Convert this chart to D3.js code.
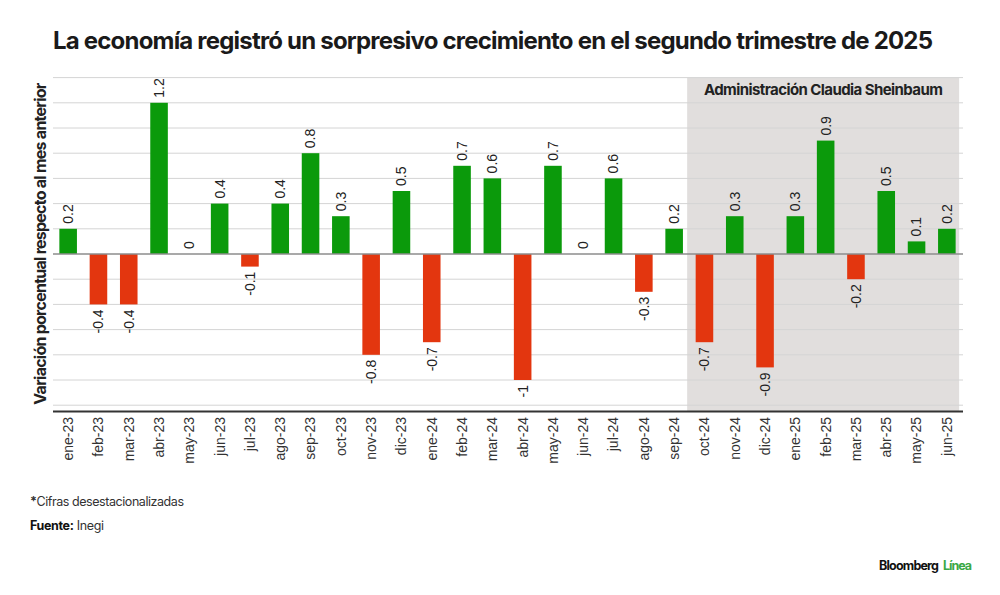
<!DOCTYPE html>
<html lang="es">
<head>
<meta charset="UTF-8">
<title>Crecimiento económico mensual</title>
<script src="https://d3js.org/d3.v7.min.js"></script>
<style>
    body { margin: 0; background: #fff; }
    svg { display: block; }
    .grot { font-family: Inter, "Liberation Sans", Arial, sans-serif; }
    .sans { font-family: "Liberation Sans", Arial, sans-serif; }
</style>
</head>
<body>
<svg id="chart" width="1000" height="595"></svg>
<script>
    // datos
    const months = ['ene-23','feb-23','mar-23','abr-23','may-23','jun-23','jul-23','ago-23','sep-23','oct-23',
                    'nov-23','dic-23','ene-24','feb-24','mar-24','abr-24','may-24','jun-24','jul-24','ago-24',
                    'sep-24','oct-24','nov-24','dic-24','ene-25','feb-25','mar-25','abr-25','may-25','jun-25'];
    const values = [0.2, -0.4, -0.4, 1.2, 0, 0.4, -0.1, 0.4, 0.8, 0.3,
                    -0.8, 0.5, -0.7, 0.7, 0.6, -1, 0.7, 0, 0.6, -0.3,
                    0.2, -0.7, 0.3, -0.9, 0.3, 0.9, -0.2, 0.5, 0.1, 0.2];
    const gridTicks = [-1.2, -1, -0.8, -0.6, -0.4, -0.2, 0.2, 0.4, 0.6, 0.8, 1, 1.2, 1.4];
    const shadeFrom = 'oct-24';
    const shadeTo = 'jun-25';

    const svg = d3.select('#chart');
    const left = 53, right = 962;

    // ajusta el espaciado de letras para que un texto ocupe un ancho dado
    function fitWidth(sel, target) {
        const node = sel.node();
        const len = node.getComputedTextLength();
        const n = node.textContent.length;
        sel.attr('letter-spacing', ((target - len) / (n - 1)).toFixed(3));
        return sel;
    }

    const x = d3.scaleBand()
        .domain(months)
        .range([left, right])
        .paddingInner(0.42)
        .paddingOuter(0.21);

    const y = d3.scaleLinear()
        .domain([-1.25, 1.4])
        .range([411.5, 77.6]);

    const bw = x.bandwidth();

    // franja de la administración
    const sx0 = x(shadeFrom) - 8.5;
    const sx1 = x(shadeTo) + bw + 3.5;
    svg.append('rect')
        .attr('x', sx0).attr('y', y(1.4))
        .attr('width', sx1 - sx0).attr('height', y(-1.25) - y(1.4))
        .attr('fill', '#e1dedd');

    // rejilla
    svg.append('g')
        .selectAll('line')
        .data(gridTicks)
        .join('line')
        .attr('x1', left).attr('x2', right + 1)
        .attr('y1', d => y(d)).attr('y2', d => y(d))
        .attr('stroke', '#d4d4d4')
        .attr('stroke-width', 1);

    const admin = svg.append('text')
        .attr('class', 'grot')
        .attr('x', (sx0 + sx1) / 2).attr('y', 95)
        .attr('text-anchor', 'middle')
        .attr('font-size', 15).attr('font-weight', 700)
        .attr('fill', '#222')
        .text('Administración Claudia Sheinbaum');
    fitWidth(admin, 239);

    // barras
    svg.append('g')
        .selectAll('rect')
        .data(values)
        .join('rect')
        .attr('x', (d, i) => x(months[i]))
        .attr('width', bw)
        .attr('y', d => y(Math.max(0, d)))
        .attr('height', d => Math.abs(y(d) - y(0)))
        .attr('fill', d => d >= 0 ? '#0b9a0b' : '#e3360f');

    // línea de cero
    svg.append('line')
        .attr('x1', left).attr('x2', right + 1)
        .attr('y1', y(0)).attr('y2', y(0))
        .attr('stroke', '#8c8c8c').attr('stroke-width', 1.5);

    // eje inferior
    svg.append('line')
        .attr('x1', left).attr('x2', right + 1)
        .attr('y1', y(-1.25)).attr('y2', y(-1.25))
        .attr('stroke', '#333').attr('stroke-width', 2.2);

    // etiquetas de valor
    svg.append('g')
        .selectAll('text')
        .data(values)
        .join('text')
        .attr('class', 'sans')
        .attr('font-size', 14)
        .attr('fill', '#222')
        .attr('dy', '0.35em')
        .attr('text-anchor', d => d >= 0 ? 'start' : 'end')
        .attr('transform', (d, i) => {
            const cx = x(months[i]) + bw / 2;
            const cy = d >= 0 ? y(d) - 5 : y(d) + 5;
            return `translate(${cx},${cy}) rotate(-90)`;
        })
        .text(d => String(d));

    // etiquetas de meses
    svg.append('g')
        .selectAll('text')
        .data(months)
        .join('text')
        .attr('class', 'sans')
        .attr('font-size', 14)
        .attr('fill', '#333')
        .attr('dy', '0.35em')
        .attr('text-anchor', 'end')
        .attr('transform', d => `translate(${x(d) + bw / 2},417) rotate(-90)`)
        .text(d => d);

    // título del eje y
    const ylab = svg.append('text')
        .attr('class', 'grot')
        .attr('transform', 'translate(46,244) rotate(-90)')
        .attr('text-anchor', 'middle')
        .attr('font-size', 16).attr('font-weight', 700)
        .attr('fill', '#222')
        .text('Variación porcentual respecto al mes anterior');
    fitWidth(ylab, 322);

    // título
    const title = svg.append('text')
        .attr('class', 'grot')
        .attr('x', 53).attr('y', 49)
        .attr('font-size', 24).attr('font-weight', 700)
        .attr('fill', '#1a1a1a')
        .text('La economía registró un sorpresivo crecimiento en el segundo trimestre de 2025');
    fitWidth(title, 880);

    // notas
    const note = svg.append('text')
        .attr('class', 'grot')
        .attr('x', 30).attr('y', 506)
        .attr('font-size', 12.5).attr('fill', '#333');
    note.append('tspan').attr('font-weight', 700).text('*');
    note.append('tspan').text('Cifras desestacionalizadas');
    fitWidth(note, 154);

    const src = svg.append('text')
        .attr('class', 'grot')
        .attr('x', 30).attr('y', 530)
        .attr('font-size', 12.5).attr('fill', '#333');
    src.append('tspan').attr('font-weight', 700).attr('fill', '#111').text('Fuente:');
    src.append('tspan').text(' Inegi');
    fitWidth(src, 74);

    // logo
    const bl = svg.append('text')
        .attr('class', 'grot')
        .attr('x', 879).attr('y', 570)
        .attr('font-size', 12.5).attr('font-weight', 700)
        .attr('fill', '#111')
        .text('Bloomberg');
    fitWidth(bl, 60);
    const li = svg.append('text')
        .attr('class', 'grot')
        .attr('x', 943).attr('y', 570)
        .attr('font-size', 12.5).attr('font-weight', 700)
        .attr('fill', '#3aa845')
        .text('Línea');
    fitWidth(li, 29);
</script>
</body>
</html>
